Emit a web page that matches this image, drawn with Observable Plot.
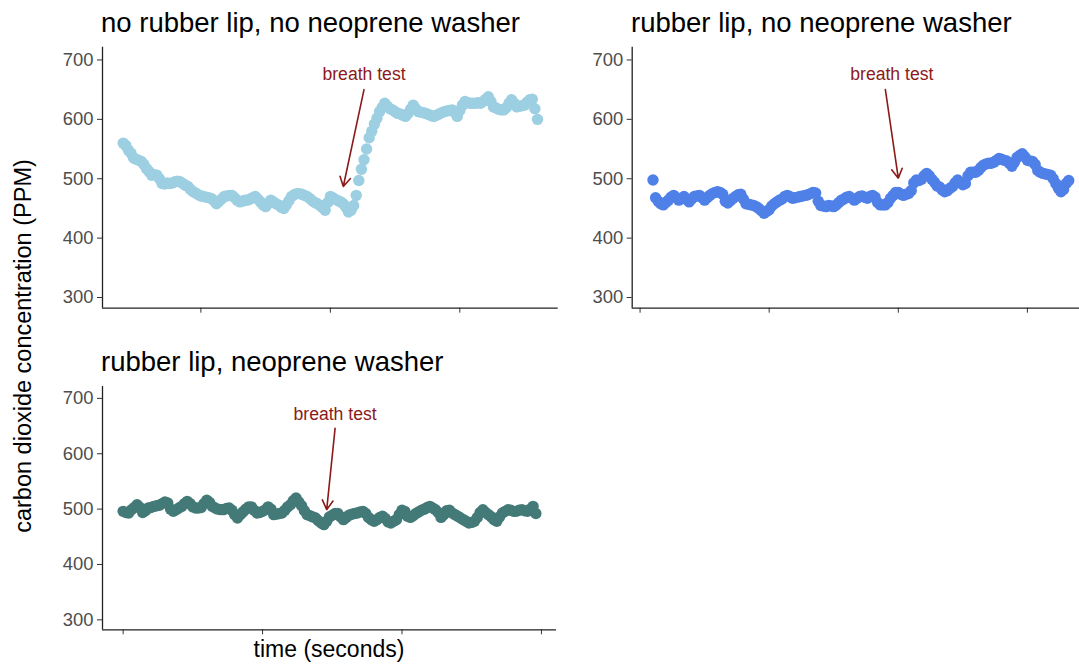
<!DOCTYPE html>
<html>
<head>
<meta charset="utf-8">
<script src="https://cdn.jsdelivr.net/npm/d3@7"></script>
<script src="https://cdn.jsdelivr.net/npm/@observablehq/plot@0.6"></script>
<style>
  body { margin: 0; background: #fff; }
  #chart { position: relative; width: 1079px; height: 665px; overflow: hidden; background: #fff;
           font-family: "Liberation Sans", Arial, Helvetica, sans-serif; }
  #chart svg.panel { position: absolute; overflow: visible; }
  #overlay { position: absolute; left: 0; top: 0; pointer-events: none; }
</style>
</head>
<body>
<div id="chart"></div>
<script>
// ---------------- data ----------------
const panelTitles = [
  "no rubber lip, no neoprene washer",
  "rubber lip, no neoprene washer",
  "rubber lip, neoprene washer"
];
const sampleSeconds = 2;            // sensor logging interval
const startSeconds = [40, 10, 0];   // first reading of each run

const ppmNoLipNoWasher = [
  560,556,548,543,535,533,531,529,524,517,512,506,507,506,
  500,492,491,493,492,493,495,496,495,492,489,487,482,478,
  476,473,471,470,469,468,467,463,458,462,466,470,
  471,472,472,468,464,461,462,464,464,466,468,470,
  466,461,456,453,458,464,461,458,456,452,450,456,463,470,
  473,475,475,474,472,470,467,463,460,458,455,451,447,460,470,
  468,465,463,461,458,452,444,447,455,
  472,497,516,532,550,569,580,592,602,613,620,627,
  622,618,616,613,610,609,607,605,610,617,624,
  618,613,612,611,610,608,606,605,607,609,611,613,
  614,615,616,612,605,615,624,630,
  628,627,627,627,628,627,630,634,638,630,621,
  619,617,616,616,620,627,633,627,621,
  622,623,624,629,633,634,618,600
];
const ppmLipNoWasher = [
  498,468,462,458,456,460,464,469,472,468,
  464,467,470,465,461,466,470,471,472,468,
  464,468,472,475,477,478,477,474,462,459,
  463,467,470,473,474,466,458,457,456,455,
  453,450,446,442,445,448,454,458,461,464,
  466,470,472,470,467,468,469,470,471,472,
  473,475,477,476,462,455,454,453,455,454,
  453,456,460,464,466,469,470,467,464,467,
  470,471,469,467,470,472,469,460,456,456,
  456,460,467,472,477,477,474,472,474,475,
  480,493,498,497,499,505,509,505,499,494,
  488,486,481,478,480,484,487,493,498,494,
  490,492,505,511,511,511,514,519,523,525,
  526,526,528,531,534,533,531,530,526,521,
  528,536,539,542,537,531,530,529,524,514,
  511,509,508,507,506,500,492,484,478,482,
  492,497
];
const ppmLipWasher = [
  496,494,493,499,503,508,503,494,497,502,
  503,505,506,507,510,513,511,500,496,499,
  502,505,510,514,510,504,502,502,503,510,
  516,512,505,502,500,499,499,501,502,498,
  490,484,490,495,500,504,504,498,493,494,
  496,499,504,500,490,491,492,493,498,504,
  508,515,520,513,506,497,490,488,486,484,
  479,475,472,478,486,489,492,492,486,481,
  485,489,491,492,493,495,496,492,485,481,
  478,481,485,487,483,477,475,478,481,490,
  498,496,487,485,488,492,495,498,500,503,
  505,502,499,494,485,490,497,498,493,490,
  487,484,481,478,475,476,478,485,494,499,
  494,490,486,481,478,486,493,496,499,498,
  496,496,498,499,497,496,500,505,492
];
const seriesColors = ["#9ccfe1", "#4f80e8", "#437a78"];
const yTicks = [300, 400, 500, 600, 700];
const xTicks = [[100, 200, 300], [0, 100, 200, 300], [0, 100, 200, 300]];
const annotationLabel = "breath test";
// arrow start (x1,y1) / end (x2,y2) and label position (tx,ty), in seconds / ppm
const breathArrows = [
  {x1: 226, y1: 650, x2: 210, y2: 487, tx: 226, ty: 675},
  {x1: 190, y1: 650, x2: 200, y2: 501, tx: 195, ty: 675},
  {x1: 152, y1: 646, x2: 146, y2: 499, tx: 152, ty: 671}
];
const yLabel = "carbon dioxide concentration (PPM)";
const xLabel = "time (seconds)";

// ---------------- layout ----------------
const font = '"Liberation Sans", Arial, Helvetica, sans-serif';
const yDomain = [282, 721.5];
const panels = [
  {left: 0,   top: 0,   width: 570, height: 320, ml: 102,   mr: 12.3, mt: 46.7, mb: 12.3},
  {left: 560, top: 0,   width: 540, height: 320, ml: 71.7,  mr: 11,   mt: 46.7, mb: 12.3},
  {left: 0,   top: 340, width: 570, height: 300, ml: 102,   mr: 14,   mt: 46,   mb: 10.7}
];
const allSeries = [ppmNoLipNoWasher, ppmLipNoWasher, ppmLipWasher];

const chart = document.getElementById("chart");

allSeries.forEach((vals, k) => {
  const data = vals.map((v, i) => ({t: startSeconds[k] + i * sampleSeconds, ppm: v}));
  const ext = d3.extent(data, d => d.t);
  const pad = (ext[1] - ext[0]) * 0.05;
  const xDomain = [ext[0] - pad, ext[1] + pad];
  const p = panels[k];
  const plot = Plot.plot({
    width: p.width, height: p.height,
    marginLeft: p.ml, marginRight: p.mr, marginTop: p.mt, marginBottom: p.mb,
    style: {fontFamily: font, background: "transparent", overflow: "visible"},
    x: {domain: xDomain},
    y: {domain: yDomain},
    marks: [
      Plot.axisY(yTicks, {tickSize: 0, tickPadding: 9, fontSize: 18.4, color: "#4d4d4d"}),
      Plot.axisY(yTicks, {tickSize: 5, tickFormat: () => "", color: "#333"}),
      Plot.axisX(xTicks[k], {tickSize: 5, tickFormat: () => "", color: "#333"}),
      Plot.ruleX([xDomain[0]], {stroke: "#222", strokeWidth: 1.3}),
      Plot.ruleY([yDomain[0]], {stroke: "#222", strokeWidth: 1.3}),
      Plot.dot(data, {x: "t", y: "ppm", r: 5.7, fill: seriesColors[k], stroke: "none"}),
      Plot.arrow([breathArrows[k]], {x1: "x1", y1: "y1", x2: "x2", y2: "y2",
        stroke: "#8b1a1a", strokeWidth: 1.6, headLength: 10}),
      Plot.text([breathArrows[k]], {x: "tx", y: "ty", text: () => annotationLabel,
        fill: "#8b1a1a", fontSize: 17.6})
    ]
  });
  plot.classList.add("panel");
  plot.style.left = p.left + "px";
  plot.style.top = p.top + "px";
  chart.appendChild(plot);
});

// titles and shared axis labels
const overlay = d3.select(chart).append("svg").attr("id", "overlay")
  .attr("width", 1079).attr("height", 665)
  .style("font-family", font);
const titlePos = [[101, 31.5], [631, 31.5], [101, 371]];
panelTitles.forEach((t, k) => {
  overlay.append("text").attr("x", titlePos[k][0]).attr("y", titlePos[k][1])
    .attr("font-size", 27.5).attr("fill", "#000").text(t);
});
overlay.append("text")
  .attr("transform", "translate(31,346) rotate(-90)")
  .attr("text-anchor", "middle").attr("font-size", 23.5).attr("fill", "#000").text(yLabel);
overlay.append("text").attr("x", 329).attr("y", 657)
  .attr("text-anchor", "middle").attr("font-size", 23).attr("fill", "#000").text(xLabel);
</script>
</body>
</html>
